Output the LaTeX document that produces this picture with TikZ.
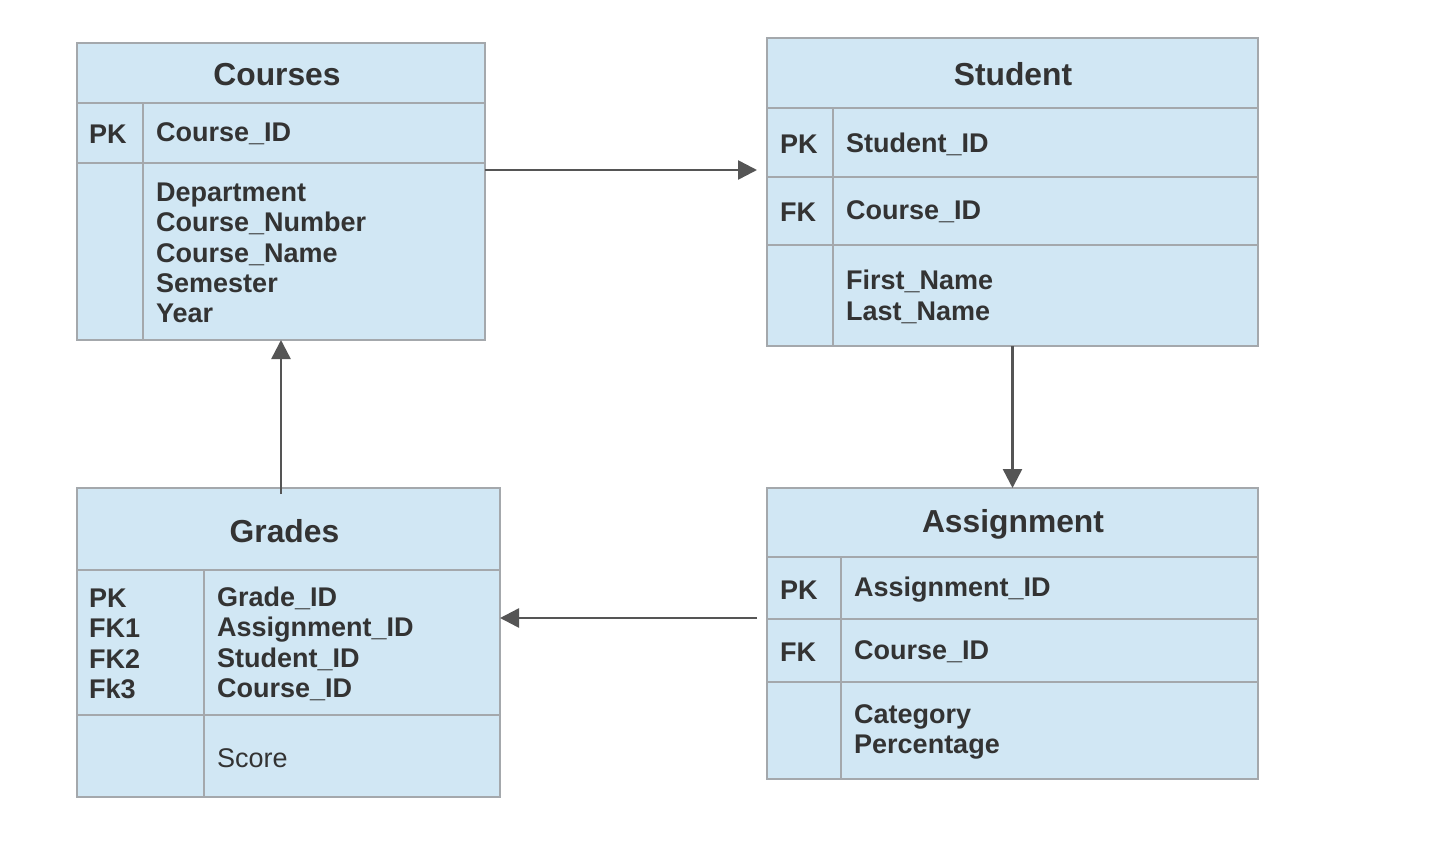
\documentclass[tikz,border=0pt]{standalone}
\usepackage{fontspec}
\setmainfont{Liberation Sans}
\usetikzlibrary{arrows.meta,calc}
\definecolor{fillc}{HTML}{D1E7F4}
\definecolor{bordc}{HTML}{A4A8AC}
\definecolor{txtc}{HTML}{333333}
\definecolor{linec}{HTML}{555555}
\tikzset{
  tbl/.style={draw=bordc, fill=fillc, line width=2pt, inner sep=0pt, outer sep=0pt, anchor=north west},
  sepl/.style={draw=bordc, line width=1.6pt},
  ttl/.style={font=\fontsize{31.8}{36}\selectfont\bfseries, text=txtc, inner sep=0pt},
  fld/.style={font=\fontsize{27}{30.3}\selectfont\bfseries, text=txtc, anchor=west, align=left, inner sep=0pt},
  fldr/.style={font=\fontsize{27}{30.3}\selectfont, text=txtc, anchor=west, align=left, inner sep=0pt},
  conn/.style={draw=linec, line width=2.5pt, -{Triangle[length=19pt,width=19pt]}}
}
\begin{document}
\begin{tikzpicture}[x=1pt,y=-1pt]
\path[use as bounding box, fill=white] (0,0) rectangle (1430,843);

% Courses
\node[tbl, minimum width=408pt, minimum height=297pt] (courses) at (77,43) {};
\draw[sepl] (77,103) -- (485,103);
\draw[sepl] (77,163) -- (485,163);
\draw[sepl] (143,103) -- (143,340);
\node[ttl] (coursesT) at (277,74.5) {Courses};
\node[fld] (coursesPK) at (89,134) {PK};
\node[fld] (coursesF1) at (156,134) {Course\_ID};
\node[fld] (coursesF2) at (156,253) {Department\\Course\_Number\\Course\_Name\\Semester\\Year};

% Student
\node[tbl, minimum width=491pt, minimum height=308pt] (student) at (767,38) {};
\draw[sepl] (767,108) -- (1258,108);
\draw[sepl] (767,177) -- (1258,177);
\draw[sepl] (767,245) -- (1258,245);
\draw[sepl] (833,108) -- (833,346);
\node[ttl] (studentT) at (1013,74) {Student};
\node[fld] (studentPK) at (780,144) {PK};
\node[fld] (studentF1) at (846,144) {Student\_ID};
\node[fld] (studentFK) at (780,212) {FK};
\node[fld] (studentF2) at (846,212) {Course\_ID};
\node[fld] (studentF3) at (846,297) {First\_Name\\Last\_Name};

% Grades
\node[tbl, minimum width=423pt, minimum height=309pt] (grades) at (77,488) {};
\draw[sepl] (77,570) -- (500,570);
\draw[sepl] (77,715) -- (500,715);
\draw[sepl] (204,570) -- (204,797);
\node[ttl] (gradesT) at (284.5,531) {Grades};
\node[fld] (gradesK) at (89,644) {PK\\FK1\\FK2\\Fk3};
\node[fld] (gradesF1) at (217,644) {Grade\_ID\\Assignment\_ID\\Student\_ID\\Course\_ID};
\node[fldr] (gradesF2) at (217,758) {Score};

% Assignment
\node[tbl, minimum width=491pt, minimum height=291pt] (assign) at (767,488) {};
\draw[sepl] (767,557) -- (1258,557);
\draw[sepl] (767,619) -- (1258,619);
\draw[sepl] (767,682) -- (1258,682);
\draw[sepl] (841,557) -- (841,779);
\node[ttl] (assignT) at (1013,524) {Assignment};
\node[fld] (assignPK) at (780,590) {PK};
\node[fld] (assignF1) at (854,590) {Assignment\_ID};
\node[fld] (assignFK) at (780,652) {FK};
\node[fld] (assignF2) at (854,652) {Course\_ID};
\node[fld] (assignF3) at (854,732) {Category\\Percentage};

% Connectors
\coordinate (c1) at (757,170);
\coordinate (c2) at (281,494);
\coordinate (c3) at (757,618);
\draw[conn] (courses.east |- c1) -- (c1);
\draw[conn] (student.south) -- (assign.north);
\draw[conn] (c2) -- (c2 |- courses.south);
\draw[conn] (c3) -- (grades.east |- c3);
\end{tikzpicture}
\end{document}
